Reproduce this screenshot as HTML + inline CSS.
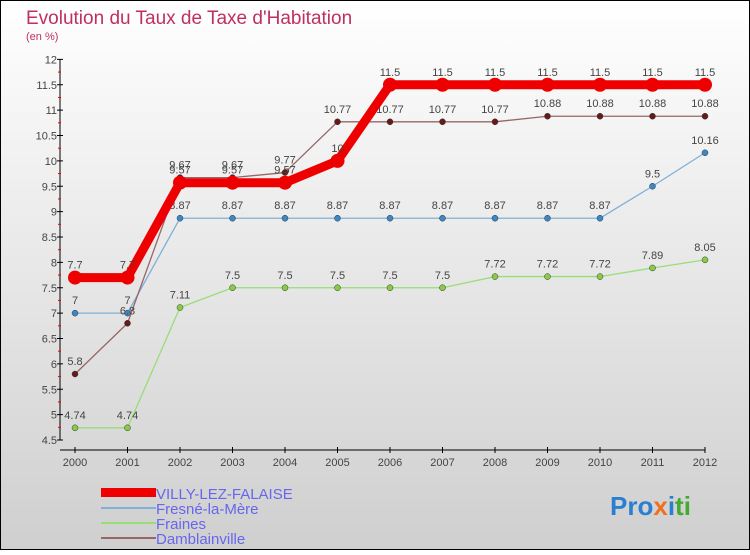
<!DOCTYPE html>
<html><head><meta charset="utf-8"><style>
body{margin:0}
svg text{font-family:"Liberation Sans",sans-serif}
</style></head><body>
<svg width="750" height="550" xmlns="http://www.w3.org/2000/svg">
<defs><linearGradient id="bg" x1="0" y1="0" x2="0" y2="1"><stop offset="0" stop-color="#ffffff"/><stop offset="1" stop-color="#cfcfcf"/></linearGradient></defs>
<rect x="0.5" y="0.5" width="749" height="549" fill="url(#bg)" stroke="#000"/>
<text x="26" y="24" font-size="19" fill="#c0305e">Evolution du Taux de Taxe d'Habitation</text>
<text x="26" y="40" font-size="11" fill="#c0305e">(en %)</text>
<g id="axes"></g><g id="series"></g>
<g>
<rect x="101" y="488" width="55" height="9" fill="#ee0000"/>
<line x1="101" y1="508" x2="156" y2="508" stroke="#7fb0d8" stroke-width="2"/>
<line x1="101" y1="523" x2="156" y2="523" stroke="#99dd77" stroke-width="2"/>
<line x1="101" y1="538" x2="156" y2="538" stroke="#996666" stroke-width="2"/>
<g font-size="15" fill="#6666ee">
<text x="156" y="499">VILLY-LEZ-FALAISE</text>
<text x="156" y="514">Fresné-la-Mère</text>
<text x="156" y="529">Fraines</text>
<text x="156" y="544">Damblainville</text>
</g></g>
<text x="610" y="515" font-size="26" font-weight="bold"><tspan fill="#2a7fd0">Pro</tspan><tspan fill="#f07020">x</tspan><tspan fill="#2a7fd0">i</tspan><tspan fill="#44aa33">ti</tspan></text>
</svg>
<script>
const years=[2000,2001,2002,2003,2004,2005,2006,2007,2008,2009,2010,2011,2012];
const yTicks=[4.5,5,5.5,6,6.5,7,7.5,8,8.5,9,9.5,10,10.5,11,11.5,12];
const villy=[7.7,7.7,9.57,9.57,9.57,10,11.5,11.5,11.5,11.5,11.5,11.5,11.5];
const fresne=[7,7,8.87,8.87,8.87,8.87,8.87,8.87,8.87,8.87,8.87,9.5,10.16];
const fraines=[4.74,4.74,7.11,7.5,7.5,7.5,7.5,7.5,7.72,7.72,7.72,7.89,8.05];
const dambl=[5.8,6.8,9.67,9.67,9.77,10.77,10.77,10.77,10.77,10.88,10.88,10.88,10.88];
const NS="http://www.w3.org/2000/svg";
const x=i=>75+i*52.5, y=v=>440-(v-4.5)*50.75;
function mk(t,a,p){const e=document.createElementNS(NS,t);for(const k in a)e.setAttribute(k,a[k]);p.appendChild(e);return e;}
const ax=document.getElementById('axes'), se=document.getElementById('series');
const ya=mk('line',{x1:60,y1:y(12),x2:60,y2:440,stroke:'#000'},ax);

const xa=mk('line',{x1:60,y1:450,x2:705,y2:450,stroke:'#000'},ax);

yTicks.forEach(v=>{
 mk('line',{x1:57,y1:y(v),x2:63,y2:y(v),stroke:'#000'},ax);
 if(v<12)mk('line',{x1:58,y1:y(v+0.25),x2:61,y2:y(v+0.25),stroke:'#e00'},ax);
 const t=mk('text',{x:57,y:y(v)+4,'text-anchor':'end','font-size':11,fill:'#444'},ax);t.textContent=String(v);
 
});
years.forEach((yr,i)=>{
 mk('line',{x1:x(i),y1:447,x2:x(i),y2:453,stroke:'#000'},ax);
 const t=mk('text',{x:x(i),y:466,'text-anchor':'middle','font-size':11,fill:'#444'},ax);t.textContent=yr;
 
});
function series(d,name,col,w,r,dot){
 const g=mk('g',{},se);
 mk('polyline',{points:d.map((v,i)=>x(i)+','+y(v)).join(' '),fill:'none',stroke:col,'stroke-width':w,'stroke-linejoin':'round'},g);
 d.forEach((v,i)=>{
  const c=mk('circle',{cx:x(i),cy:y(v),r:r,fill:dot,stroke:r<5?'#333':'none','stroke-width':0.5},g);
  
  const t=mk('text',{x:x(i),y:y(v)-9,'text-anchor':'middle','font-size':11,fill:'#444'},g);t.textContent=String(v);
  
 });
}
series(fraines,'fraines','#99dd77',1.3,3,'#88cc44');
series(fresne,'fresne','#7fb0d8',1.3,3,'#3a88c8');
series(dambl,'damblainville','#996666',1.3,3,'#661a1a');
series(villy,'villy','#ee0000',9,7,'#ee0000');
</script>
</body></html>
